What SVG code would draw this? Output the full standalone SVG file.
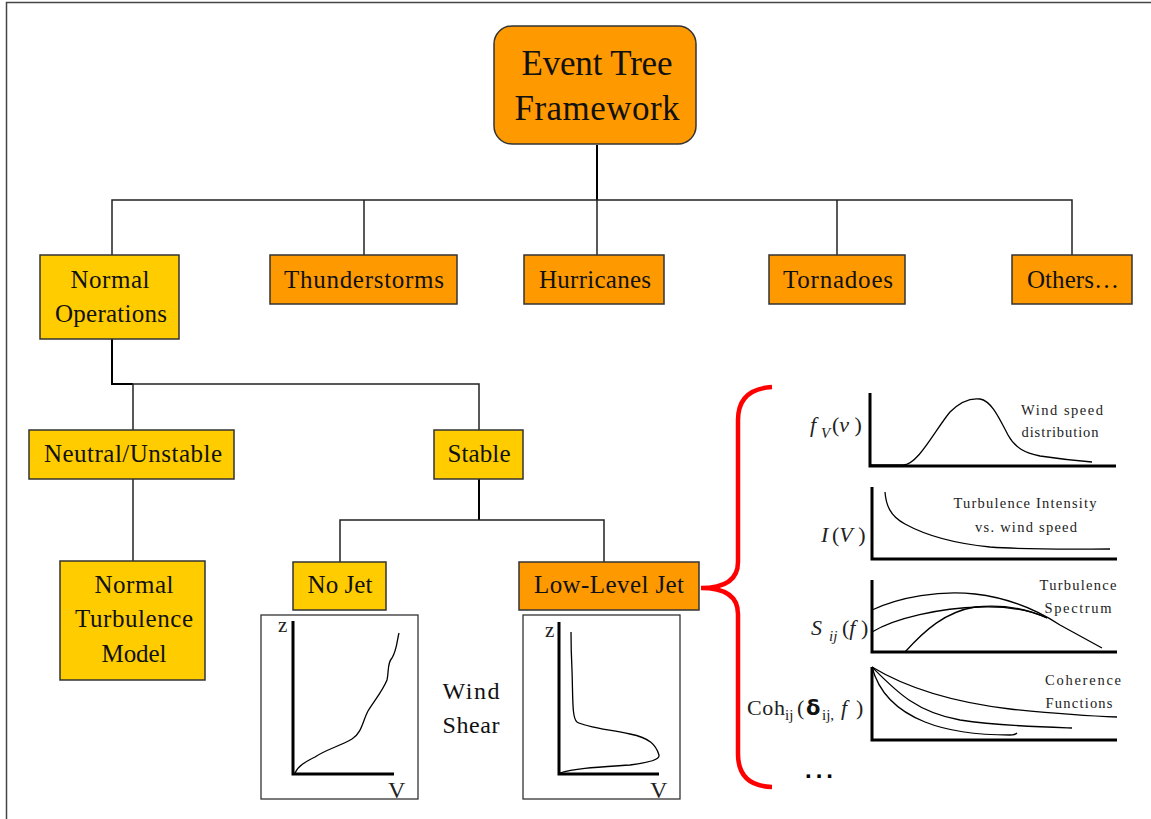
<svg xmlns="http://www.w3.org/2000/svg" width="1151" height="819" viewBox="0 0 1151 819">
<style>
.box{stroke:#333;stroke-width:1.5}
.y{fill:#FFCC00}
.o{fill:#FF9900}
.lbl{font-family:"Liberation Serif",serif;font-size:25px;fill:#111;text-anchor:middle}
.big{font-size:35px}
.ws{font-size:24px}
.sm{font-family:"Liberation Serif",serif;font-size:14.5px;fill:#222;text-anchor:middle}
.math{font-family:"Liberation Serif",serif;font-size:22px;fill:#222}
.sub{font-size:15px}
.ax{font-size:21px}
.axv{font-size:24px}
.it{font-style:italic}
.conn{stroke:#222;stroke-width:1.5;fill:none}
.axis{stroke:#000;stroke-width:3;fill:none}
.crv{stroke:#000;stroke-width:1.3;fill:none}
.gbox{fill:#fff;stroke:#333;stroke-width:1.3}
</style>
<rect width="1151" height="819" fill="#fff"/>
<polyline points="6.5,819 6.5,2.5 1151,2.5" fill="none" stroke="#444" stroke-width="1.5"/>

<g id="connectors">
<line x1="597" y1="145" x2="597" y2="200" stroke="#000" stroke-width="2"/>
<polyline class="conn" points="112,255 112,200 1072,200 1072,255"/>
<line class="conn" x1="364" y1="200" x2="364" y2="255"/>
<line class="conn" x1="597" y1="200" x2="597" y2="255"/>
<line class="conn" x1="837" y1="200" x2="837" y2="255"/>
<polyline points="112,339 112,384 133,384" fill="none" stroke="#000" stroke-width="2"/>
<polyline class="conn" points="133,430 133,384 479,384 479,430"/>
<line class="conn" x1="133" y1="479" x2="133" y2="561"/>
<line x1="479" y1="479" x2="479" y2="520" stroke="#000" stroke-width="2"/>
<polyline class="conn" points="340,562 340,520 604,520 604,562"/>
<path d="M772,387 Q738,389 738,420 L738,562 Q738,588 701,588 Q738,588 738,614 L738,754 Q738,786 772,787" fill="none" stroke="#FF0000" stroke-width="4.5"/>
</g>

<g id="event-tree-framework">
<rect class="box o" x="494" y="26" width="202" height="118" rx="18"/>
<text class="lbl big" x="597" y="75" textLength="151">Event Tree</text>
<text class="lbl big" x="597" y="120" textLength="165">Framework</text>
</g>

<g id="normal-operations">
<rect class="box y" x="40" y="255" width="139" height="84"/>
<text class="lbl" x="110" y="288" textLength="79">Normal</text>
<text class="lbl" x="111" y="322" textLength="112">Operations</text>
</g>
<g id="thunderstorms">
<rect class="box o" x="270" y="255" width="187" height="49"/>
<text class="lbl" x="364" y="288" textLength="160">Thunderstorms</text>
</g>
<g id="hurricanes">
<rect class="box o" x="524" y="255" width="140" height="49"/>
<text class="lbl" x="595" y="288" textLength="112">Hurricanes</text>
</g>
<g id="tornadoes">
<rect class="box o" x="769" y="255" width="136" height="49"/>
<text class="lbl" x="838" y="288" textLength="110">Tornadoes</text>
</g>
<g id="others">
<rect class="box o" x="1012" y="255" width="120" height="49"/>
<text class="lbl" x="1073" y="288" textLength="92">Others…</text>
</g>

<g id="neutral-unstable">
<rect class="box y" x="29" y="430" width="205" height="49"/>
<text class="lbl" x="133" y="462" textLength="178">Neutral/Unstable</text>
</g>
<g id="stable">
<rect class="box y" x="434" y="430" width="89" height="49"/>
<text class="lbl" x="479" y="462" textLength="63">Stable</text>
</g>
<g id="normal-turbulence-model">
<rect class="box y" x="60" y="561" width="145" height="119"/>
<text class="lbl" x="134" y="593" textLength="79">Normal</text>
<text class="lbl" x="134" y="627" textLength="118">Turbulence</text>
<text class="lbl" x="134" y="662" textLength="65">Model</text>
</g>
<g id="no-jet">
<rect class="box y" x="293" y="562" width="93" height="48"/>
<text class="lbl" x="340" y="593" textLength="65">No Jet</text>
</g>
<g id="low-level-jet">
<rect class="box o" x="519" y="562" width="180" height="48"/>
<text class="lbl" x="609" y="593" textLength="150">Low-Level Jet</text>
</g>

<g id="no-jet-profile">
<rect class="gbox" x="261" y="615" width="157" height="184"/>
<polyline class="axis" points="293,621 293,774 394,774"/>
<path class="crv" d="M295,773 C298,766 305,762 315,757 C325,750 340,746 352,739 C362,733 363,720 368,711 C375,700 383,690 387,680 C389,672 387,663 392,658 C397,650 397,640 399,633"/>
<text class="math ax" x="278" y="632">z</text>
<text class="math axv" x="388" y="798">V</text>
</g>
<g id="llj-profile">
<rect class="gbox" x="523" y="615" width="157" height="184"/>
<polyline class="axis" points="559,622 559,774 659,774"/>
<path class="crv" d="M560,773 C575,768 600,767 630,765 C650,762 660,760 659,755 C656,745 650,738 630,734 C605,729 585,727 577,722 C572,718 573,700 572,670 C571,650 571,640 571,632"/>
<text class="math ax" x="545" y="637">z</text>
<text class="math axv" x="650" y="798">V</text>
</g>
<g id="wind-shear">
<text class="lbl ws" x="471" y="699" textLength="57">Wind</text>
<text class="lbl ws" x="471" y="733" textLength="57">Shear</text>
</g>

<g id="wind-speed-distribution">
<polyline class="axis" points="870,393 870,466 1116,466"/>
<path class="crv" d="M870,465 L903,465 C918,465 935,430 950,412 C962,400 972,398 980,399 C992,401 1000,420 1008,435 C1015,448 1025,453 1040,456 C1060,459 1080,461 1092,462"/>
<text class="math it" x="810" y="432">f</text>
<text class="math sub it" x="821" y="438">V</text>
<text class="math" x="832" y="432">(<tspan class="it">v</tspan> )</text>
<text class="sm" x="1062" y="415" textLength="82">Wind speed</text>
<text class="sm" x="1060" y="437" textLength="77">distribution</text>
</g>
<g id="turbulence-intensity">
<polyline class="axis" points="872,487 872,559 1117,559"/>
<path class="crv" d="M885,492 C886,505 890,516 905,524 C925,535 950,543 990,547 C1030,550 1080,549 1110,549"/>
<text class="math it" x="821" y="542">I</text>
<text class="math" x="832" y="542">(<tspan class="it">V</tspan> )</text>
<text class="sm" x="1025" y="508" textLength="143">Turbulence Intensity</text>
<text class="sm" x="1026" y="532" textLength="102">vs. wind speed</text>
</g>
<g id="turbulence-spectrum">
<polyline class="axis" points="872,580 872,652 1117,652"/>
<path class="crv" d="M872,610 C900,597 940,590 975,594 C1010,598 1040,612 1060,625 L1102,648"/>
<path class="crv" d="M872,632 C895,618 940,608 980,607 C1010,606 1030,610 1047,618"/>
<path class="crv" d="M905,652 C925,630 945,612 975,607 C1005,604 1030,610 1047,618"/>
<text class="math it" x="811" y="635">S</text>
<text class="math sub it" x="829" y="641">ij</text>
<text class="math" x="842" y="635">(<tspan class="it">f</tspan> )</text>
<text class="sm" x="1078" y="590" textLength="77">Turbulence</text>
<text class="sm" x="1078" y="613" textLength="67">Spectrum</text>
</g>
<g id="coherence-functions">
<polyline class="axis" points="872,667 872,740 1117,740"/>
<path class="crv" d="M872,667 C910,690 960,703 1010,709 C1060,714 1090,716 1117,717"/>
<path class="crv" d="M872,667 C895,690 915,712 960,720 C1000,726 1040,727 1072,728"/>
<path class="crv" d="M872,667 C878,690 895,710 925,722 C950,732 980,735 1010,735 Q1015,735 1017,733"/>
<text class="math" x="747" y="715" textLength="38">Coh</text>
<text class="math sub" x="785" y="720">ij</text>
<text class="math" x="797" y="715">(</text>
<text x="806" y="715" font-family="'DejaVu Sans',sans-serif" font-size="21" font-weight="bold" fill="#111">δ</text>
<text class="math sub" x="822" y="720">ij,</text>
<text class="math it" x="841" y="715">f</text>
<text class="math" x="856" y="715">)</text>
<text class="sm" x="1083" y="685" textLength="76">Coherence</text>
<text class="sm" x="1079" y="708" textLength="67">Functions</text>
</g>
<g id="ellipsis">
<text x="821" y="778" font-family="'Liberation Sans',sans-serif" font-size="24" font-weight="bold" text-anchor="middle" letter-spacing="4" fill="#000">...</text>
</g>
</svg>
